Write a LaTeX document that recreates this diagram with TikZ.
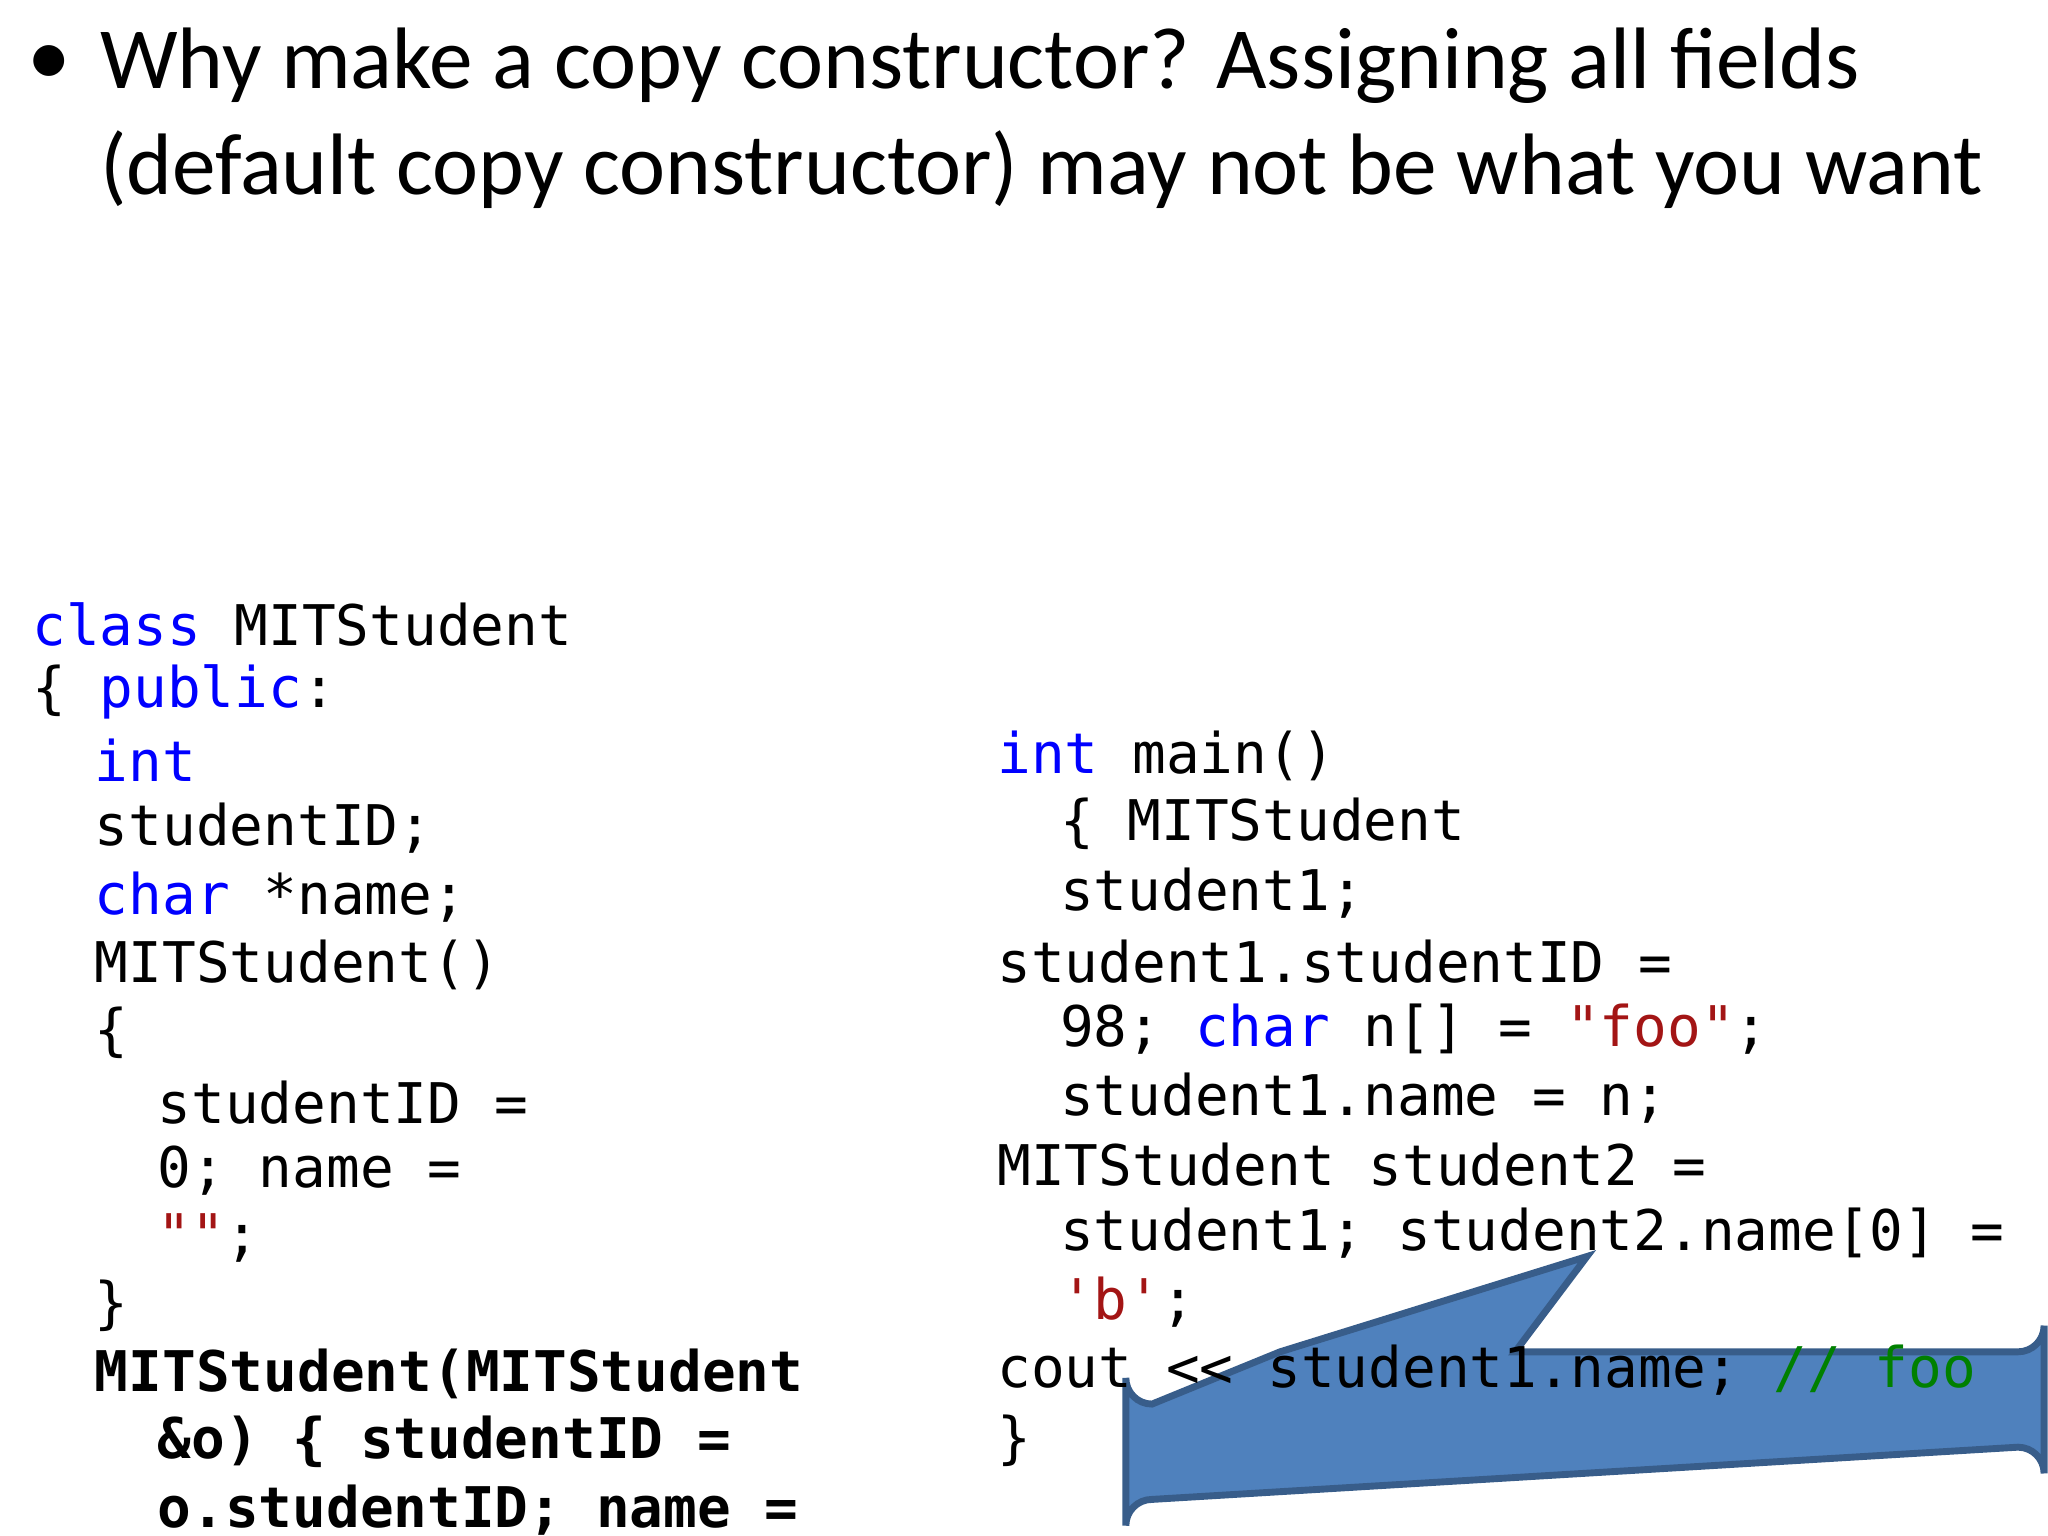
\documentclass[tikz,border=0pt]{standalone}
\usepackage{fontspec}
\setmainfont{Carlito}
\newfontfamily\code{DejaVu Sans Mono}
\definecolor{kw}{HTML}{0000FF}
\definecolor{str}{HTML}{A31515}
\definecolor{cmt}{HTML}{008000}
\definecolor{callfill}{HTML}{4F81BD}
\definecolor{calldraw}{HTML}{385D8A}
\begin{document}
\begin{tikzpicture}[x=0.01cm,y=-0.01cm,
  cl/.style={anchor=west,inner sep=0pt,font=\code\fontsize{12.2}{14}\selectfont},
  tl/.style={anchor=west,inner sep=0pt,font=\fontsize{19}{22}\selectfont}]
\useasboundingbox (0,0) rectangle (1568,1176);
% callout (behind the code text)
\draw[calldraw,fill=callfill,line width=1.5pt]
  (980,1035) -- (1215,962) -- (1160,1035) -- (1545,1035)
  arc[start angle=90,end angle=0,radius=20] -- (1565,1128)
  arc[start angle=0,end angle=-90,radius=20] -- (882,1148)
  arc[start angle=270,end angle=180,radius=20] -- (862,1055)
  arc[start angle=180,end angle=90,radius=20] -- cycle;
\node[tl] (b) at (20,50) {•};
\node[tl] (t1) at (76,50) {Why make a copy constructor? Assigning all fields};
\node[tl] (t2) at (76,130) {(default copy constructor) may not be what you want};
% left column
\node[cl] (l1) at (24,478) {\textcolor{kw}{class} MITStudent};
\node[cl] (l2) at (24,530) {\{ \textcolor{kw}{public}:};
\node[cl] (l3) at (72,582) {\textcolor{kw}{int}};
\node[cl] (l4) at (72,634) {studentID;};
\node[cl] (l5) at (72,687) {\textcolor{kw}{char} *name;};
\node[cl] (l6) at (72,739) {MITStudent()};
\node[cl] (l7) at (72,791) {\{};
\node[cl] (l8) at (120,844) {studentID =};
\node[cl] (l9) at (120,896) {0; name =};
\node[cl] (l10) at (120,948) {\textcolor{str}{""};};
\node[cl] (l11) at (72,1000) {\}};
\node[cl] (l12) at (72,1052) {\textbf{MITStudent(MITStudent}};
\node[cl] (l13) at (120,1104) {\textbf{\&o) \{ studentID =}};
\node[cl] (l14) at (120,1156) {\textbf{o.studentID; name =}};
% right column
\node[cl] (r1) at (763,579) {\textcolor{kw}{int} main()};
\node[cl] (r2) at (811,631) {\{ MITStudent};
\node[cl] (r3) at (811,684) {student1;};
\node[cl] (r4) at (763,736) {student1.studentID =};
\node[cl] (r5) at (811,788) {98; \textcolor{kw}{char} n[] = \textcolor{str}{"foo"};};
\node[cl] (r6) at (811,841) {student1.name = n;};
\node[cl] (r7) at (763,892) {MITStudent student2 =};
\node[cl] (r8) at (811,944) {student1; student2.name[0] =};
\node[cl] (r9) at (811,997) {\textcolor{str}{'b'};};
\node[cl] (r10) at (763,1049) {cout << student1.name; \textcolor{cmt}{// foo}};
\node[cl] (r11) at (763,1103) {\}};
\end{tikzpicture}
\end{document}
